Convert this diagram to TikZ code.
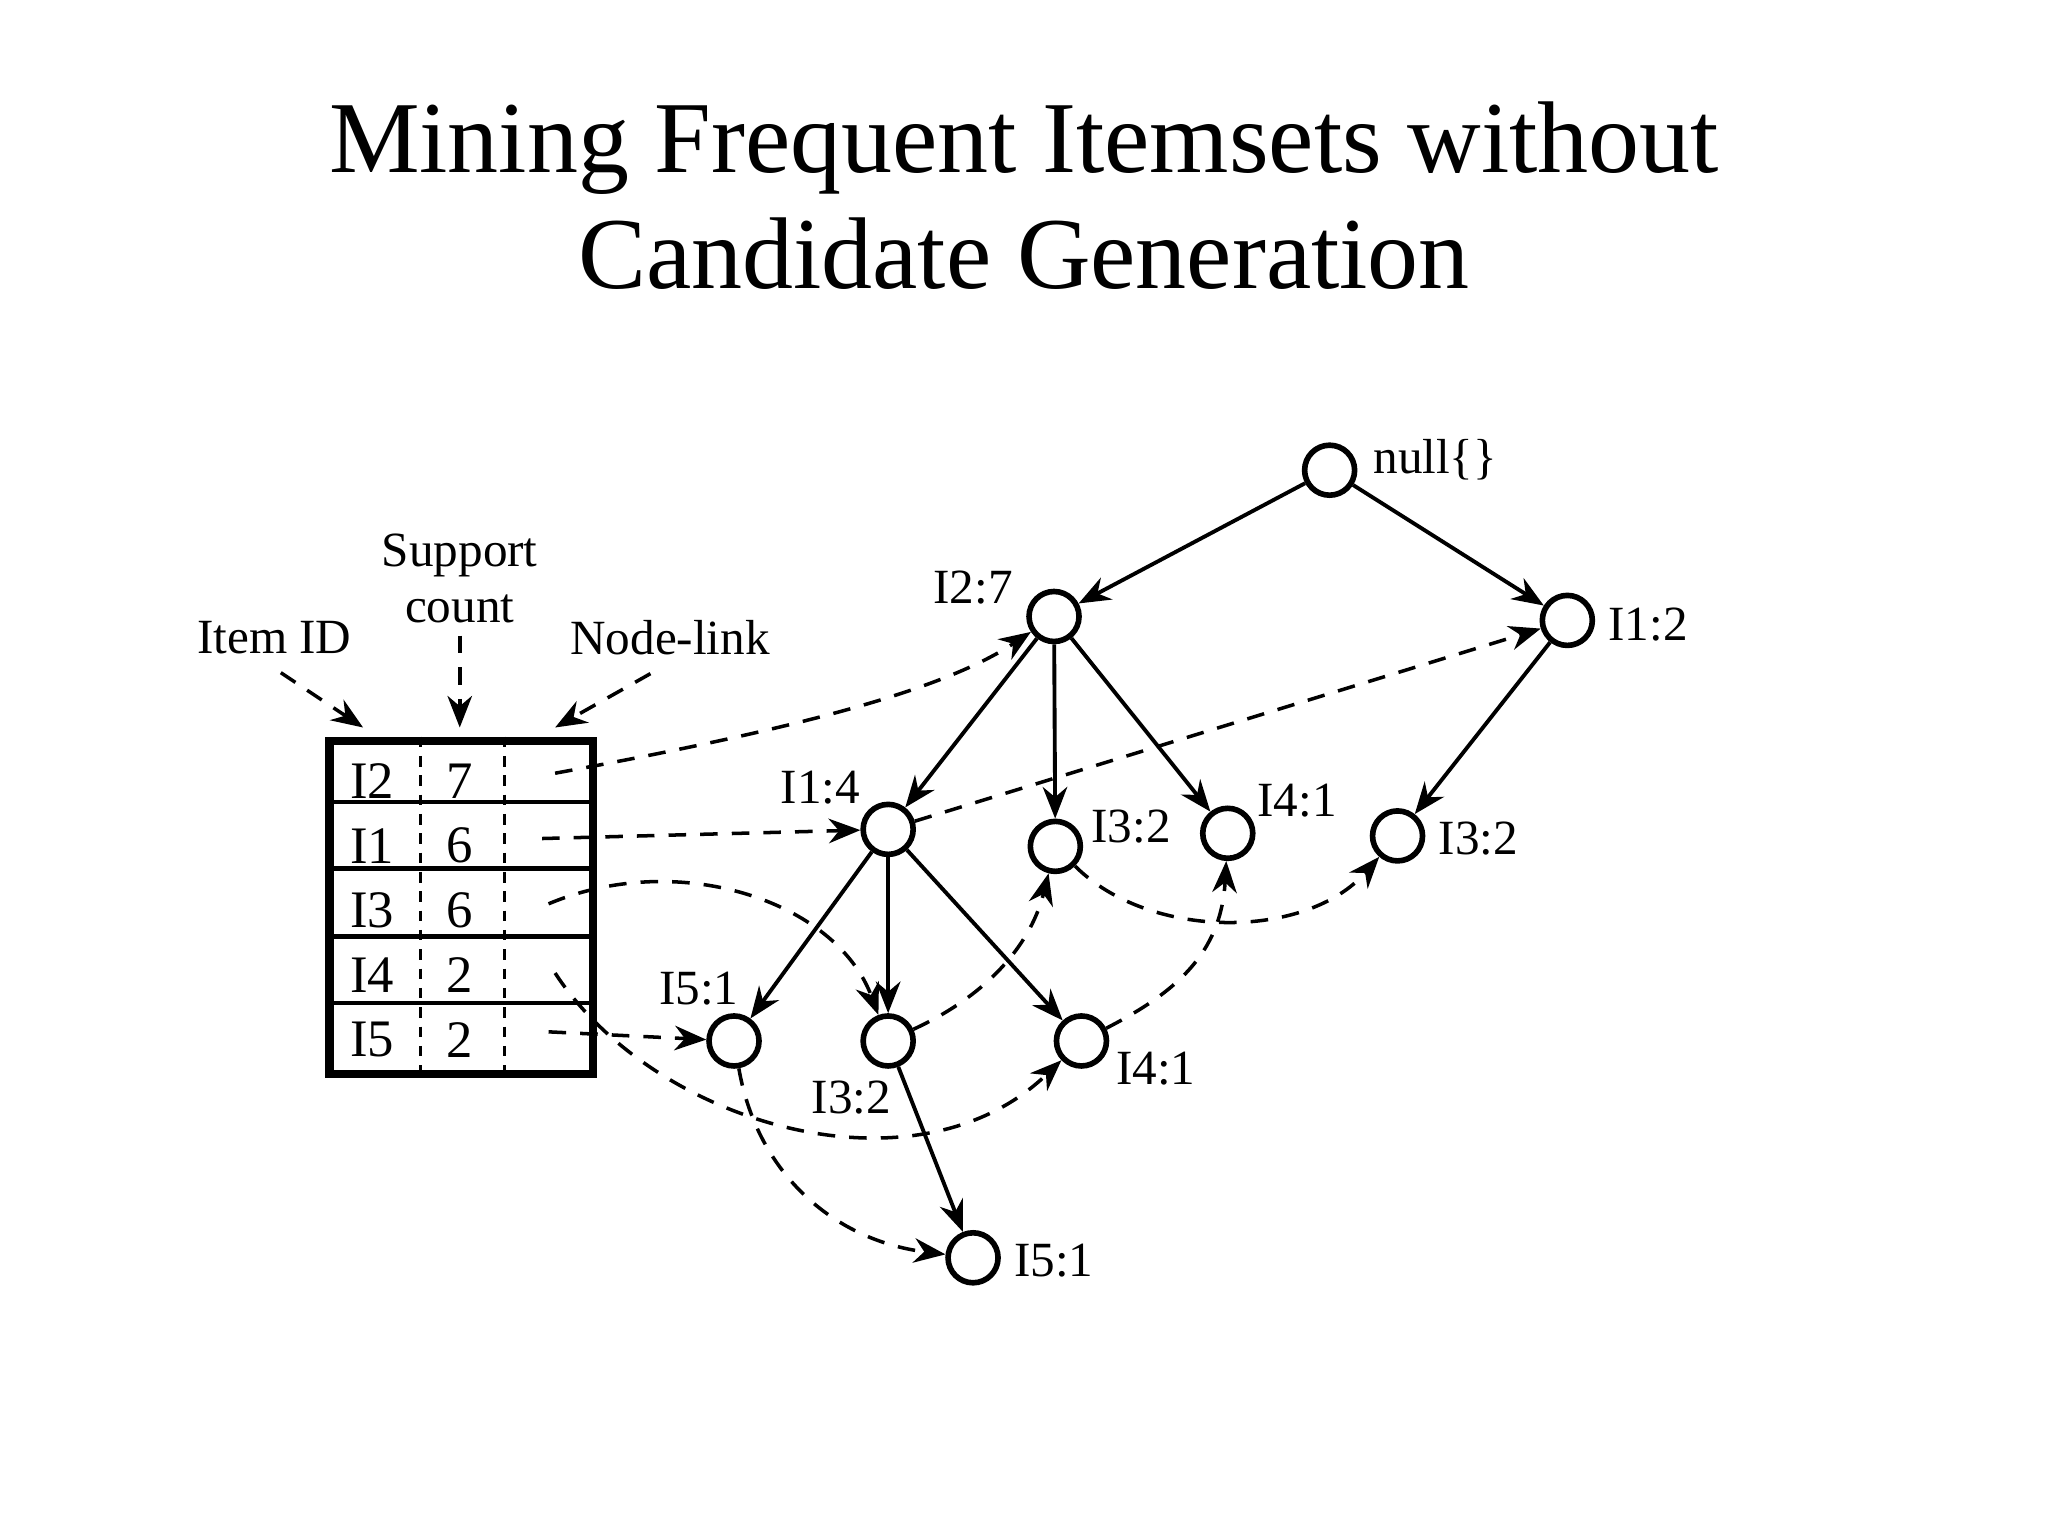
\documentclass[tikz,border=0pt]{standalone}
\usepackage{fontspec}
\setmainfont{Liberation Serif}
\usetikzlibrary{arrows.meta}
\begin{document}
\begin{tikzpicture}[x=0.013061cm,y=-0.013061cm,
  tn/.style={circle,draw,line width=1.6pt,inner sep=0pt,minimum size=0.5cm},
  lbl/.style={font=\fontsize{14}{16}\selectfont},
  tbl/.style={font=\fontsize{15}{17}\selectfont},
  ed/.style={-{Stealth[length=9pt,width=7pt]},line width=1.1pt},
  dl/.style={-{Stealth[length=9pt,width=7pt]},line width=1pt,dash pattern=on 5pt off 4pt}]
\useasboundingbox (0,0) rectangle (1568,1176);
\node[font=\fontsize{29}{33}\selectfont,align=center] (title) at (784,150) {Mining Frequent Itemsets without\\Candidate Generation};
% tree nodes
\node[tn] (null) at (1018,360) {};
\node[tn] (i27) at (807,472) {};
\node[tn] (i12) at (1200,475) {};
\node[tn] (i14) at (680,635) {};
\node[tn] (i32a) at (808,648) {};
\node[tn] (i41a) at (940,638) {};
\node[tn] (i32b) at (1070,640) {};
\node[tn] (i51a) at (562,797) {};
\node[tn] (i32c) at (680,797) {};
\node[tn] (i41b) at (828,797) {};
\node[tn] (i51b) at (745,963) {};
\node[lbl,anchor=west] (lnull) at (1042,352) {null\{\}};
\node[lbl] (l27) at (745,450) {I2:7};
\node[lbl,anchor=west] (l12) at (1222,478) {I1:2};
\node[lbl] (l14) at (628,603) {I1:4};
\node[lbl] (l32a) at (866,633) {I3:2};
\node[lbl] (l41a) at (993,613) {I4:1};
\node[lbl,anchor=west] (l32b) at (1092,642) {I3:2};
\node[lbl] (l51a) at (535,757) {I5:1};
\node[lbl] (l32c) at (652,840) {I3:2};
\node[lbl] (l41b) at (885,818) {I4:1};
\node[lbl,anchor=west] (l51b) at (767,965) {I5:1};
% solid edges
\draw[ed] (null) -- (i27);
\draw[ed] (null) -- (i12);
\draw[ed] (i27) -- (i14);
\draw[ed] (i27) -- (i32a);
\draw[ed] (i27) -- (i41a);
\draw[ed] (i12) -- (i32b);
\draw[ed] (i14) -- (i51a);
\draw[ed] (i14) -- (i32c);
\draw[ed] (i14) -- (i41b);
\draw[ed] (i32c) -- (i51b);
% table
\node[draw,line width=2.4pt,inner sep=0pt,anchor=north west,minimum width=202*0.013061cm,minimum height=255*0.013061cm] (tab) at (249,564) {};
\foreach \y in {614,665,717,768} \draw[line width=1.2pt] (249,\y) -- (451,\y);
\foreach \x in {322,386} \draw[line width=0.8pt,dash pattern=on 3pt off 2.5pt] (\x,564) -- (\x,819);
\foreach \i/\it/\c in {0/I2/7,1/I1/6,2/I3/6,3/I4/2,4/I5/2}{
  \node[tbl] at (285,598+\i*49.5) {\it};
  \node[tbl] at (352,598+\i*49.5) {\c};
}
\coordinate (r1) at (425,592);
\coordinate (r2) at (415,642);
\coordinate (r3) at (420,692);
\coordinate (r4) at (425,745);
\coordinate (r5) at (420,790);
\node[lbl] (itemid) at (210,488) {Item ID};
\node[lbl,align=center] (sup) at (352,443) {Support\\count};
\node[lbl] (nl) at (513,488) {Node-link};
\coordinate (a1) at (278,557);
\coordinate (a2) at (352,557);
\coordinate (a3) at (425,557);
\draw[dl] (itemid.south) ++(5,5) -- (a1);
\draw[dl] (sup.south) -- (a2);
\draw[dl] (nl.south) ++(-15,5) -- (a3);
% node links
\draw[dl] (r1) .. controls (600,560) and (720,530) .. (i27);
\draw[dl] (r2) -- (i14);
\draw[dl] (r3) .. controls (520,650) and (640,690) .. (i32c);
\draw[dl] (r4) .. controls (500,860) and (700,920) .. (i41b);
\draw[dl] (r5) -- (i51a);
\draw[dl] (i14) -- (i12);
\draw[dl] (i32c) .. controls (760,760) and (790,720) .. (i32a);
\draw[dl] (i32a) .. controls (880,720) and (1000,720) .. (i32b);
\draw[dl] (i41b) .. controls (900,760) and (935,730) .. (i41a);
\draw[dl] (i51a) .. controls (580,900) and (640,950) .. (i51b);
\end{tikzpicture}
\end{document}
